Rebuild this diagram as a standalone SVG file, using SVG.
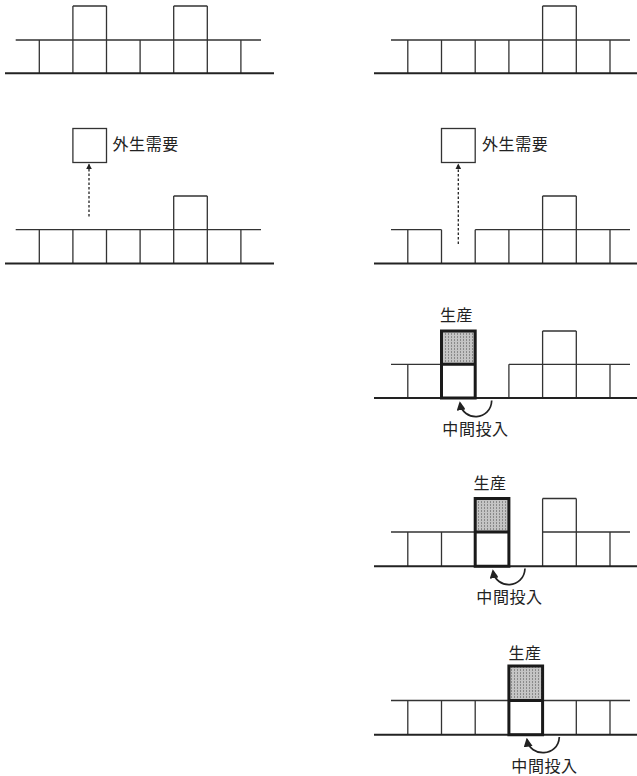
<svg xmlns="http://www.w3.org/2000/svg" width="637" height="776" viewBox="0 0 637 776">
<style>
.t{stroke:#333;stroke-width:1.3;fill:none}
.b{stroke:#222;stroke-width:2;fill:none}
.bold{stroke:#1a1a1a;stroke-width:3;fill:none}
.dot{stroke:#222;stroke-width:1.3;stroke-dasharray:2.5 2;fill:none}
.arc{stroke:#222;stroke-width:1.7;fill:none}
text{font-family:"Noto Sans CJK JP","Noto Sans CJK SC",sans-serif;font-size:16px;fill:#222;letter-spacing:0.6px}
</style>
<defs>
<pattern id="shade" width="3" height="3" patternUnits="userSpaceOnUse">
<rect width="3" height="3" fill="#c4c4c4"/>
<rect x="1" y="0" width="1" height="2" fill="#8a8a8a"/>
</pattern>
<marker id="ah" viewBox="0 0 10 10" refX="9" refY="5" markerWidth="6" markerHeight="6" orient="auto" markerUnits="userSpaceOnUse">
<path d="M0,0 L10,5 L0,10 z" fill="#222"/>
</marker>
<marker id="ah2" viewBox="0 0 10 10" refX="8" refY="5" markerWidth="9" markerHeight="9" orient="auto" markerUnits="userSpaceOnUse">
<path d="M0,0 L10,5 L0,10 z" fill="#222"/>
</marker>
</defs>

<g id="panel1">
<path class="t" d="M15.7 40H261M39.3 40V73.3M72.9 6V73.3M106.5 6V73.3M140.1 40V73.3M173.7 6V73.3M207.3 6V73.3M240.9 40V73.3M72.9 6H106.5M173.7 6H207.3"/>
<path class="b" d="M5 73.3H274"/>
</g>

<g id="panel2">
<path class="t" d="M391 40H630M407.8 40V73.3M441.5 40V73.3M475.2 40V73.3M508.9 40V73.3M542.6 6V73.3M576.3 6V73.3M610 40V73.3M542.6 6H576.3"/>
<path class="b" d="M374 73.3H637"/>
</g>

<g id="panel3">
<rect class="t" x="72.9" y="128.5" width="33.6" height="34"/>
<text x="112.5" y="150">外生需要</text>
<path class="t" d="M15.7 229.7H261M39.3 229.7V263.5M72.9 229.7V263.5M106.5 229.7V263.5M140.1 229.7V263.5M173.7 196V263.5M207.3 196V263.5M240.9 229.7V263.5M173.7 196H207.3"/>
<path class="b" d="M5 263.5H274"/>
</g>

<g id="panel4">
<rect class="t" x="441.5" y="128.5" width="33.7" height="34"/>
<text x="482" y="150">外生需要</text>
<path class="t" d="M391 229.7H441.5M475.2 229.7H630M407.8 229.7V263.5M441.5 229.7V263.5M475.2 229.7V263.5M508.9 229.7V263.5M542.6 196V263.5M576.3 196V263.5M610 229.7V263.5M542.6 196H576.3"/>
<path class="b" d="M374 263.5H637"/>
</g>

<g id="panel5">
<text x="456.5" y="320.5" text-anchor="middle">生産</text>
<path class="t" d="M391 364.3H441.5M508.9 364.3H630M407.8 364.3V398M508.9 364.3V398M542.6 331V398M576.3 331V398M610 364.3V398M542.6 331H576.3"/>
<rect x="441.5" y="331" width="33.7" height="33.3" fill="url(#shade)"/>
<path class="b" d="M374 398H637"/>
<path class="bold" d="M441.5 331H475.2V398H441.5ZM441.5 364.3H475.2"/>
<text x="475.5" y="434.5" text-anchor="middle">中間投入</text>
</g>

<g id="panel6">
<text x="490" y="488.5" text-anchor="middle">生産</text>
<path class="t" d="M391 532H475.2M542.6 532H630M407.8 532V566.3M441.5 532V566.3M542.6 498.5V566.3M576.3 498.5V566.3M610 532V566.3M542.6 498.5H576.3"/>
<rect x="475.2" y="498.5" width="33.7" height="33.5" fill="url(#shade)"/>
<path class="b" d="M374 566.3H637"/>
<path class="bold" d="M475.2 498.5H508.9V566.3H475.2ZM475.2 532H508.9"/>
<text x="509.5" y="602.5" text-anchor="middle">中間投入</text>
</g>

<g id="panel7">
<text x="525" y="658.5" text-anchor="middle">生産</text>
<path class="t" d="M391 700.5H630M407.8 700.5V734.7M441.5 700.5V734.7M475.2 700.5V734.7M576.3 700.5V734.7M610 700.5V734.7"/>
<rect x="508.9" y="666" width="33.7" height="34.5" fill="url(#shade)"/>
<path class="b" d="M374 734.7H637"/>
<path class="bold" d="M508.9 666H542.6V734.7H508.9ZM508.9 700.5H542.6"/>
<text x="544.5" y="772" text-anchor="middle">中間投入</text>
</g>

<g id="connectors">
<path class="dot" d="M89 216.5V164" marker-end="url(#ah)"/>
<path class="dot" d="M458.3 244V164" marker-end="url(#ah)"/>
<path class="arc" d="M491.7 400.5C491 421 463 422 460 403" marker-end="url(#ah2)"/>
<path class="arc" d="M525 568.5C524 589 496 590 493 571" marker-end="url(#ah2)"/>
<path class="arc" d="M559.3 737C558.5 757 530 758 527 739.5" marker-end="url(#ah2)"/>
</g>
</svg>
